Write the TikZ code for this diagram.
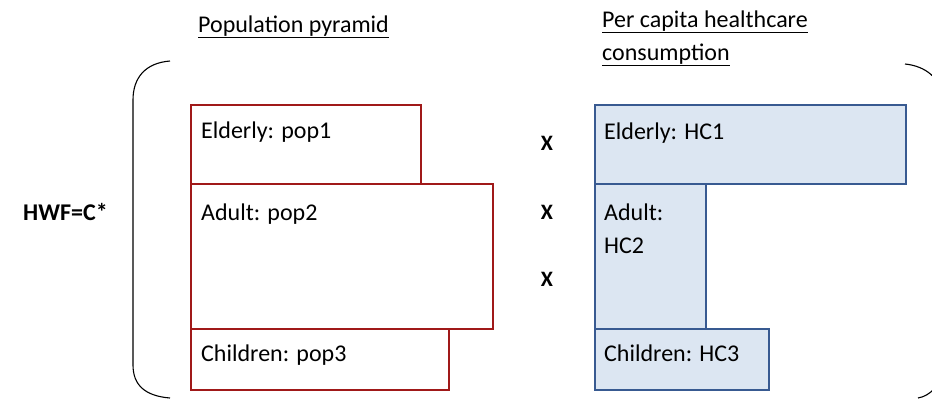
\documentclass[tikz,border=0pt]{standalone}
\usepackage{fontspec}
\setmainfont{Carlito}
\definecolor{popred}{RGB}{160,25,25}
\definecolor{hcblue}{RGB}{56,90,145}
\definecolor{hcfill}{RGB}{220,230,242}
\begin{document}
\begin{tikzpicture}[x=1pt,y=-1pt,
  lbl/.style={anchor=base west, inner sep=0pt, font=\fontsize{24}{33}\selectfont},
  popbox/.style={draw=popred, line width=2.2pt, anchor=north west, inner sep=0pt},
  hcbox/.style={draw=hcblue, fill=hcfill, line width=2.2pt, anchor=north west, inner sep=0pt},
  bsign/.style={inner sep=0pt, font=\fontsize{22}{26}\selectfont\bfseries},
  brk/.style={line width=1.1pt, black},
  uline/.style={line width=1.6pt, black}]
\useasboundingbox (0,0) rectangle (932,399);
\clip (0,0) rectangle (932,399);
% brackets
\draw[brk] (170,61) .. controls (145,63) and (133,78) .. (133,100) -- (133,365) .. controls (133,385) and (145,396) .. (170,398);
\draw[brk] (905,64) .. controls (925,66) and (942,78) .. (942,100) -- (942,365) .. controls (942,385) and (930,396) .. (918,398);
% titles
\node[lbl] (t1) at (198,32) {Population pyramid};
\draw[uline] ([yshift=-1.5pt]t1.south west) -- ([yshift=-1.5pt]t1.south east);
\node[lbl] (t2a) at (602,27) {Per capita healthcare};
\draw[uline] ([yshift=-1.5pt]t2a.south west) -- ([yshift=-1.5pt]t2a.south east);
\node[lbl] (t2b) at (602,60) {consumption};
\draw[uline] ([yshift=-1.5pt]t2b.south west) -- ([yshift=-1.5pt]t2b.south east);
% population boxes
\node[popbox, minimum width=230pt, minimum height=79pt] (pe) at (190,104) {};
\node[popbox, minimum width=302pt, minimum height=145pt] (pa) at (190,183) {};
\node[popbox, minimum width=258pt, minimum height=61pt] (pc) at (190,328) {};
\node[lbl] (lpe) at (201,138) {Elderly: pop1};
\node[lbl] (lpa) at (201,220) {Adult: pop2};
\node[lbl] (lpc) at (201,361) {Children: pop3};
% healthcare boxes
\node[hcbox, minimum width=311pt, minimum height=79pt] (he) at (594,104) {};
\node[hcbox, minimum width=111pt, minimum height=145pt] (ha) at (594,183) {};
\node[hcbox, minimum width=174pt, minimum height=61pt] (hc) at (594,328) {};
\node[lbl] (lhe) at (604,139) {Elderly: HC1};
\node[lbl] (lha1) at (604,220) {Adult:};
\node[lbl] (lha2) at (604,253) {HC2};
\node[lbl] (lhc) at (604,361) {Children: HC3};
% multiplication signs
\node[bsign] (x1) at (547,143) {X};
\node[bsign] (x2) at (547,212) {X};
\node[bsign] (x3) at (547,279) {X};
% formula
\node[lbl, font=\fontsize{24}{28}\selectfont\bfseries] (hwf) at (23,220) {HWF=C*};
\end{tikzpicture}
\end{document}
